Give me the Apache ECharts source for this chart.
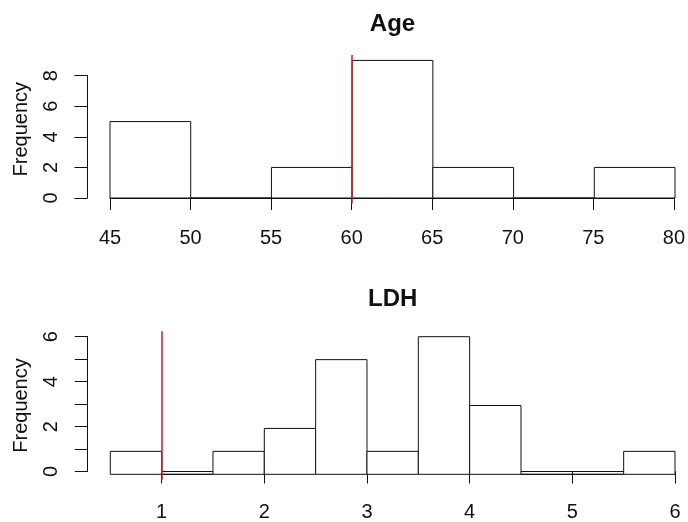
<!DOCTYPE html>
<html>
<head>
<meta charset="utf-8">
<script src="https://cdn.jsdelivr.net/npm/echarts@6/dist/echarts.min.js"></script>
<style>
  html, body { margin: 0; background: #fff; }
  #main { width: 688px; height: 522px; }
</style>
</head>
<body>
<div id="main"></div>
<script>
// Age histogram
var ageBreaks = [45, 50, 55, 60, 65, 70, 75, 80];
var ageCounts = [5, 0, 2, 9, 2, 0, 2];
var ageCut = 60;
var ageXTicks = [45, 50, 55, 60, 65, 70, 75, 80];
var ageYTicks = [0, 2, 4, 6, 8];

// LDH histogram
var ldhBreaks = [0.5, 1, 1.5, 2, 2.5, 3, 3.5, 4, 4.5, 5, 5.5, 6];
var ldhCounts = [1, 0, 1, 2, 5, 1, 6, 3, 0, 0, 1];
var ldhCut = 1;
var ldhXTicks = [1, 2, 3, 4, 5, 6];
var ldhYTicks = [0, 2, 4, 6]; // labelled; ticks every 1

var W = 688, H = 522;
var FONT = 'Liberation Sans, Arial, Helvetica, sans-serif';
var INK = '#111';
var LW = 1;

var grid = [], xAxis = [], yAxis = [], series = [], graphic = [];

// box: pixel x of first/last break, pixel y of 0 and of the top y tick
function panel(title, breaks, counts, cut, xTicks, yTicks, yStep, box) {
  var n = grid.length;
  var b0 = breaks[0], b1 = breaks[breaks.length - 1];
  var yTop = yTicks[yTicks.length - 1];
  var sx = (box.x1 - box.x0) / (b1 - b0);
  var sy = (box.y0 - box.yT) / yTop;
  var ymax = Math.max.apply(null, counts);
  var lo = -0.04 * ymax, hi = 1.04 * ymax;
  var plotTop = box.y0 - hi * sy, plotBottom = box.y0 - lo * sy;
  var plotLeft = box.x0 - 0.04 * (box.x1 - box.x0);
  var plotRight = box.x1 + 0.04 * (box.x1 - box.x0);
  var tx0 = box.x0 + (xTicks[0] - b0) * sx;
  var tx1 = box.x0 + (xTicks[xTicks.length - 1] - b0) * sx;

  // data grid = plot region
  grid.push({ left: box.x0, right: W - box.x1, top: plotTop, bottom: H - plotBottom });
  xAxis.push({ gridIndex: n, type: 'value', min: b0, max: b1, show: false });
  yAxis.push({ gridIndex: n, type: 'value', min: lo, max: hi, show: false });

  // axis grid (R style detached axes)
  grid.push({ left: tx0, right: W - tx1, top: box.yT, bottom: H - box.y0 });
  xAxis.push({
    gridIndex: n + 1, type: 'value', min: xTicks[0], max: xTicks[xTicks.length - 1],
    interval: xTicks[1] - xTicks[0], offset: plotBottom - box.y0,
    axisLine: { lineStyle: { color: INK, width: LW } },
    axisTick: { length: 12, lineStyle: { color: INK, width: LW } },
    axisLabel: { color: INK, fontSize: 20, fontFamily: FONT, margin: 25 },
    splitLine: { show: false }
  });
  yAxis.push({
    gridIndex: n + 1, type: 'value', min: 0, max: yTop, interval: yStep,
    offset: tx0 - plotLeft,
    axisLine: { show: true, lineStyle: { color: INK, width: LW } },
    axisTick: { show: true, length: 13, lineStyle: { color: INK, width: LW } },
    axisLabel: {
      color: INK, fontSize: 20, fontFamily: FONT, margin: 26, rotate: 90,
      formatter: function (v) { return yTicks.indexOf(v) >= 0 ? String(v) : ''; }
    },
    splitLine: { show: false }
  });

  var data = counts.map(function (c, i) { return [breaks[i], breaks[i + 1], c]; });
  series.push({
    type: 'custom',
    xAxisIndex: n, yAxisIndex: n,
    silent: true,
    data: data,
    renderItem: function (params, api) {
      var p0 = api.coord([api.value(0), 0]);
      var p1 = api.coord([api.value(1), api.value(2)]);
      return {
        type: 'rect',
        shape: { x: p0[0], y: p1[1], width: p1[0] - p0[0], height: p0[1] - p1[1] },
        style: { fill: '#fff', stroke: INK, lineWidth: LW }
      };
    }
  });
  series.push({
    type: 'line', xAxisIndex: n, yAxisIndex: n, data: [], silent: true,
    markLine: {
      symbol: 'none', silent: true, animation: false,
      label: { show: false },
      lineStyle: { color: '#e0141e', width: 1.5, type: 'solid' },
      data: [{ xAxis: cut }]
    }
  });

  graphic.push({
    type: 'text', x: (plotLeft + plotRight) / 2, y: box.titleY,
    style: { text: title, fontSize: 24, fontWeight: 'bold', fontFamily: FONT,
             fill: INK, textAlign: 'center', textVerticalAlign: 'middle' }
  });
  graphic.push({
    type: 'text', x: 21, y: (plotTop + plotBottom) / 2, rotation: Math.PI / 2,
    style: { text: 'Frequency', fontSize: 20, fontFamily: FONT,
             fill: INK, textAlign: 'center', textVerticalAlign: 'middle' }
  });
}

panel('Age', ageBreaks, ageCounts, ageCut, ageXTicks, ageYTicks, 2,
  { x0: 110, x1: 675, y0: 198, yT: 75.7, titleY: 24 });
panel('LDH', ldhBreaks, ldhCounts, ldhCut, ldhXTicks, ldhYTicks, 1,
  { x0: 110.3, x1: 675, y0: 474.3, yT: 336.7, titleY: 299 });

var chart = echarts.init(document.getElementById('main'));
chart.setOption({
  animation: false,
  backgroundColor: '#fff',
  grid: grid,
  xAxis: xAxis,
  yAxis: yAxis,
  series: series,
  graphic: graphic
});
</script>
</body>
</html>
